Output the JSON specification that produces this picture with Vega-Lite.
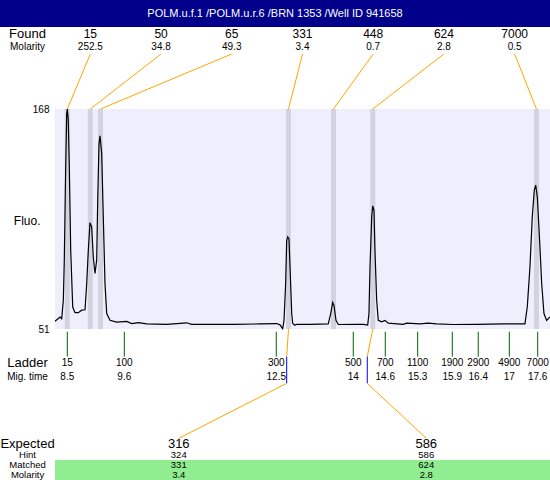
{
  "$schema": "https://vega.github.io/schema/vega-lite/v6.json",
  "padding": 0,
  "spacing": 0,
  "bounds": "flush",
  "config": {
    "view": {"stroke": null},
    "text": {"font": "Liberation Sans", "color": "black"},
    "axis": {"labelFont": "Liberation Sans", "titleFont": "Liberation Sans"}
  },
  "datasets": {
    "trace": [
      {"t": 8.262, "f": 55.1}, {"t": 8.359, "f": 57.4}, {"t": 8.392, "f": 56.5}, {"t": 8.423, "f": 66.3},
      {"t": 8.442, "f": 87.6}, {"t": 8.469, "f": 137.3}, {"t": 8.488, "f": 165}, {"t": 8.5, "f": 168},
      {"t": 8.519, "f": 162.2}, {"t": 8.539, "f": 137.3}, {"t": 8.566, "f": 92.9}, {"t": 8.605, "f": 62.7},
      {"t": 8.649, "f": 59.7}, {"t": 8.713, "f": 59.7}, {"t": 8.779, "f": 61}, {"t": 8.843, "f": 61.2},
      {"t": 8.876, "f": 75.2}, {"t": 8.907, "f": 92.9}, {"t": 8.939, "f": 107.5}, {"t": 8.972, "f": 105.3},
      {"t": 9.003, "f": 89.3}, {"t": 9.036, "f": 80.5}, {"t": 9.069, "f": 87.6}, {"t": 9.089, "f": 119.5},
      {"t": 9.114, "f": 149.7}, {"t": 9.133, "f": 153.8}, {"t": 9.166, "f": 144.4}, {"t": 9.197, "f": 110.6},
      {"t": 9.23, "f": 75.2}, {"t": 9.263, "f": 59.2}, {"t": 9.327, "f": 55.6}, {"t": 9.456, "f": 54.7},
      {"t": 9.65, "f": 55.0}, {"t": 9.747, "f": 53.9}, {"t": 9.875, "f": 54.4}, {"t": 10.037, "f": 53.7},
      {"t": 10.424, "f": 53.5}, {"t": 10.812, "f": 54.3}, {"t": 10.908, "f": 53.5}, {"t": 11.714, "f": 53.5},
      {"t": 12.231, "f": 53.7}, {"t": 12.554, "f": 53.9}, {"t": 12.618, "f": 53.2}, {"t": 12.67, "f": 51.2},
      {"t": 12.696, "f": 55.6}, {"t": 12.728, "f": 75.2}, {"t": 12.748, "f": 98.2}, {"t": 12.767, "f": 100},
      {"t": 12.792, "f": 99}, {"t": 12.817, "f": 80.5}, {"t": 12.845, "f": 59.2}, {"t": 12.864, "f": 53.9},
      {"t": 12.908, "f": 53}, {"t": 12.941, "f": 53.5}, {"t": 13.199, "f": 53.5}, {"t": 13.553, "f": 53.7},
      {"t": 13.6, "f": 59.2}, {"t": 13.638, "f": 65.1}, {"t": 13.664, "f": 63.5}, {"t": 13.702, "f": 55.6},
      {"t": 13.747, "f": 53.4}, {"t": 14.103, "f": 53.5}, {"t": 14.231, "f": 53.5}, {"t": 14.316, "f": 53.1},
      {"t": 14.341, "f": 59.2}, {"t": 14.361, "f": 84}, {"t": 14.394, "f": 110.6}, {"t": 14.413, "f": 116.5},
      {"t": 14.438, "f": 114.2}, {"t": 14.457, "f": 92.9}, {"t": 14.49, "f": 66.3}, {"t": 14.521, "f": 55.6},
      {"t": 14.587, "f": 54.8}, {"t": 14.651, "f": 55.6}, {"t": 14.715, "f": 54.1}, {"t": 15.005, "f": 53.5},
      {"t": 15.071, "f": 54.1}, {"t": 15.329, "f": 53.7}, {"t": 15.489, "f": 54.1}, {"t": 15.652, "f": 53.7},
      {"t": 15.973, "f": 53.4}, {"t": 16.426, "f": 53.5}, {"t": 16.941, "f": 53.7}, {"t": 17.361, "f": 53.7},
      {"t": 17.406, "f": 62.7}, {"t": 17.458, "f": 84}, {"t": 17.503, "f": 110.6}, {"t": 17.542, "f": 124.9},
      {"t": 17.569, "f": 127.5}, {"t": 17.6, "f": 121.3}, {"t": 17.638, "f": 101.8}, {"t": 17.685, "f": 75.2},
      {"t": 17.729, "f": 59.2}, {"t": 17.781, "f": 55.6}, {"t": 17.846, "f": 57.4}
    ],
    "peaks": [
      {"rank": 0, "size": 15, "mol": 252.5, "t": 8.5},
      {"rank": 1, "size": 50, "mol": 34.8, "t": 8.945},
      {"rank": 2, "size": 65, "mol": 49.3, "t": 9.143},
      {"rank": 3, "size": 331, "mol": 3.4, "t": 12.783},
      {"rank": 4, "size": 448, "mol": 0.7, "t": 13.654},
      {"rank": 5, "size": 624, "mol": 2.8, "t": 14.415},
      {"rank": 6, "size": 7000, "mol": 0.5, "t": 17.584}
    ],
    "ladder": [
      {"size": 15, "mig": 8.5, "t": 8.5},
      {"size": 100, "mig": 9.6, "t": 9.604},
      {"size": 300, "mig": 12.5, "t": 12.546},
      {"size": 500, "mig": 14, "t": 14.037},
      {"size": 700, "mig": 14.6, "t": 14.657},
      {"size": 1100, "mig": 15.3, "t": 15.284},
      {"size": 1900, "mig": 15.9, "t": 15.954},
      {"size": 2900, "mig": 16.4, "t": 16.457},
      {"size": 4900, "mig": 17, "t": 17.058},
      {"size": 7000, "mig": 17.6, "t": 17.608}
    ],
    "expected": [
      {"rank": 0, "expected": 316, "hint": 324, "matched": 331, "mol": 3.4, "peak_t": 12.783, "hint_t": 12.748},
      {"rank": 1, "expected": 586, "hint": 586, "matched": 624, "mol": 2.8, "peak_t": 14.415, "hint_t": 14.308}
    ]
  },
  "vconcat": [
    {
      "width": 550,
      "height": 27,
      "view": {"fill": "#00008B", "stroke": null},
      "data": {"values": [{"title": "POLM.u.f.1 /POLM.u.r.6 /BRN 1353 /Well ID 941658"}]},
      "mark": {"type": "text", "color": "white", "fontSize": 11, "baseline": "middle", "font": "Liberation Sans"},
      "encoding": {"text": {"field": "title"}}
    },
    {
      "width": 550,
      "height": 82,
      "layer": [
        {
          "data": {"name": "peaks"},
          "transform": [{"calculate": "8.262 + (datum.rank + 0.5) * 9.584 / 7", "as": "lt"}],
          "mark": {"type": "rule", "color": "#FFA500", "strokeWidth": 1},
          "encoding": {
            "x": {"field": "lt", "type": "quantitative", "scale": {"domain": [7.197, 17.846], "nice": false, "zero": false}, "axis": null},
            "x2": {"field": "t"},
            "y": {"datum": 32.9, "type": "quantitative", "scale": {"domain": [0, 100], "reverse": true, "nice": false, "zero": false}, "axis": null},
            "y2": {"datum": 100}
          }
        },
        {
          "data": {"name": "peaks"},
          "transform": [{"calculate": "8.262 + (datum.rank + 0.5) * 9.584 / 7", "as": "lt"}],
          "mark": {"type": "text", "fontSize": 12, "baseline": "middle"},
          "encoding": {
            "x": {"field": "lt", "type": "quantitative"},
            "y": {"datum": 8.9, "type": "quantitative"},
            "text": {"field": "size"}
          }
        },
        {
          "data": {"name": "peaks"},
          "transform": [{"calculate": "8.262 + (datum.rank + 0.5) * 9.584 / 7", "as": "lt"}],
          "mark": {"type": "text", "fontSize": 10, "baseline": "middle"},
          "encoding": {
            "x": {"field": "lt", "type": "quantitative"},
            "y": {"datum": 24, "type": "quantitative"},
            "text": {"field": "mol"}
          }
        },
        {
          "data": {"values": [{"label": "Found"}]},
          "mark": {"type": "text", "fontSize": 13, "baseline": "middle"},
          "encoding": {
            "x": {"datum": 7.73, "type": "quantitative"},
            "y": {"datum": 8.9, "type": "quantitative"},
            "text": {"field": "label"}
          }
        },
        {
          "data": {"values": [{"label": "Molarity"}]},
          "mark": {"type": "text", "fontSize": 10, "baseline": "middle"},
          "encoding": {
            "x": {"datum": 7.73, "type": "quantitative"},
            "y": {"datum": 24, "type": "quantitative"},
            "text": {"field": "label"}
          }
        }
      ]
    },
    {
      "width": 550,
      "height": 220,
      "layer": [
        {
          "data": {"name": "trace"},
          "mark": {"type": "rect", "color": "#EEEEFC"},
          "encoding": {
            "x": {"aggregate": "min", "field": "t", "type": "quantitative", "scale": {"domain": [7.197, 17.846], "nice": false, "zero": false}, "axis": null},
            "x2": {"aggregate": "max", "field": "t"},
            "y": {"datum": 51, "type": "quantitative"},
            "y2": {"datum": 168}
          }
        },
        {
          "data": {"name": "peaks"},
          "mark": {"type": "rule", "color": "#D3D3DF", "strokeWidth": 5},
          "encoding": {
            "x": {"field": "t", "type": "quantitative"}
          }
        },
        {
          "data": {"name": "trace"},
          "mark": {"type": "line", "color": "black", "strokeWidth": 1.2},
          "encoding": {
            "x": {"field": "t", "type": "quantitative"},
            "y": {
              "field": "f", "type": "quantitative",
              "scale": {"domain": [51, 168], "nice": false, "zero": false},
              "axis": {
                "values": [51, 168], "domain": false, "ticks": false, "tickSize": 0, "grid": false,
                "labelFontSize": 10, "labelColor": "black", "labelPadding": 6, "labelFlush": false, "labelOverlap": false,
                "offset": -55,
                "title": "Fluo.", "titleAngle": 0, "titleFontSize": 12, "titleFontWeight": "normal", "titleColor": "black",
                "titleX": -28.3, "titleY": 111.7, "titleAlign": "center", "titleBaseline": "middle"
              }
            }
          }
        }
      ]
    },
    {
      "width": 550,
      "height": 151,
      "layer": [
        {
          "data": {"name": "trace"},
          "mark": {"type": "rect", "color": "#90EE90"},
          "encoding": {
            "x": {"aggregate": "min", "field": "t", "type": "quantitative", "scale": {"domain": [7.197, 17.846], "nice": false, "zero": false}, "axis": null},
            "x2": {"aggregate": "max", "field": "t"},
            "y": {"datum": 86.75, "type": "quantitative", "scale": {"domain": [0, 100], "reverse": true, "nice": false, "zero": false}, "axis": null},
            "y2": {"datum": 100}
          }
        },
        {
          "data": {"name": "ladder"},
          "mark": {"type": "rule", "color": "#006400", "strokeWidth": 1},
          "encoding": {
            "x": {"field": "t", "type": "quantitative"},
            "y": {"datum": 1.8, "type": "quantitative"},
            "y2": {"datum": 18.3}
          }
        },
        {
          "data": {"name": "ladder"},
          "mark": {"type": "text", "fontSize": 10, "baseline": "middle"},
          "encoding": {
            "x": {"field": "t", "type": "quantitative"},
            "y": {"datum": 22.7, "type": "quantitative"},
            "text": {"field": "size"}
          }
        },
        {
          "data": {"name": "ladder"},
          "mark": {"type": "text", "fontSize": 10, "baseline": "middle"},
          "encoding": {
            "x": {"field": "t", "type": "quantitative"},
            "y": {"datum": 32, "type": "quantitative"},
            "text": {"field": "mig"}
          }
        },
        {
          "data": {"values": [{"label": "Ladder"}]},
          "mark": {"type": "text", "fontSize": 13, "baseline": "middle"},
          "encoding": {
            "x": {"datum": 7.73, "type": "quantitative"},
            "y": {"datum": 22.7, "type": "quantitative"},
            "text": {"field": "label"}
          }
        },
        {
          "data": {"values": [{"label": "Mig. time"}]},
          "mark": {"type": "text", "fontSize": 10, "baseline": "middle"},
          "encoding": {
            "x": {"datum": 7.73, "type": "quantitative"},
            "y": {"datum": 32, "type": "quantitative"},
            "text": {"field": "label"}
          }
        },
        {
          "data": {"name": "expected"},
          "mark": {"type": "rule", "color": "#FFA500", "strokeWidth": 1},
          "encoding": {
            "x": {"field": "peak_t", "type": "quantitative"},
            "x2": {"field": "hint_t"},
            "y": {"datum": 0, "type": "quantitative"},
            "y2": {"datum": 18.3}
          }
        },
        {
          "data": {"name": "expected"},
          "mark": {"type": "rule", "color": "#0000FF", "strokeWidth": 1},
          "encoding": {
            "x": {"field": "hint_t", "type": "quantitative"},
            "y": {"datum": 18.3, "type": "quantitative"},
            "y2": {"datum": 36}
          }
        },
        {
          "data": {"name": "expected"},
          "transform": [{"calculate": "8.262 + (datum.rank + 0.5) * 9.584 / 2", "as": "elt"}],
          "mark": {"type": "rule", "color": "#FFA500", "strokeWidth": 1},
          "encoding": {
            "x": {"field": "hint_t", "type": "quantitative"},
            "x2": {"field": "elt"},
            "y": {"datum": 36, "type": "quantitative"},
            "y2": {"datum": 72.4}
          }
        },
        {
          "data": {"name": "expected"},
          "transform": [{"calculate": "8.262 + (datum.rank + 0.5) * 9.584 / 2", "as": "elt"}],
          "mark": {"type": "text", "fontSize": 13, "baseline": "middle"},
          "encoding": {
            "x": {"field": "elt", "type": "quantitative"},
            "y": {"datum": 75.83, "type": "quantitative"},
            "text": {"field": "expected"}
          }
        },
        {
          "data": {"name": "expected"},
          "transform": [{"calculate": "8.262 + (datum.rank + 0.5) * 9.584 / 2", "as": "elt"}],
          "mark": {"type": "text", "fontSize": 9.5, "baseline": "middle"},
          "encoding": {
            "x": {"field": "elt", "type": "quantitative"},
            "y": {"datum": 83.44, "type": "quantitative"},
            "text": {"field": "hint"}
          }
        },
        {
          "data": {"name": "expected"},
          "transform": [{"calculate": "8.262 + (datum.rank + 0.5) * 9.584 / 2", "as": "elt"}],
          "mark": {"type": "text", "fontSize": 9.5, "baseline": "middle"},
          "encoding": {
            "x": {"field": "elt", "type": "quantitative"},
            "y": {"datum": 90.07, "type": "quantitative"},
            "text": {"field": "matched"}
          }
        },
        {
          "data": {"name": "expected"},
          "transform": [{"calculate": "8.262 + (datum.rank + 0.5) * 9.584 / 2", "as": "elt"}],
          "mark": {"type": "text", "fontSize": 9.5, "baseline": "middle"},
          "encoding": {
            "x": {"field": "elt", "type": "quantitative"},
            "y": {"datum": 96.56, "type": "quantitative"},
            "text": {"field": "mol"}
          }
        },
        {
          "data": {"values": [{"label": "Expected"}]},
          "mark": {"type": "text", "fontSize": 13, "baseline": "middle"},
          "encoding": {
            "x": {"datum": 7.73, "type": "quantitative"},
            "y": {"datum": 75.83, "type": "quantitative"},
            "text": {"field": "label"}
          }
        },
        {
          "data": {"values": [{"label": "Hint"}]},
          "mark": {"type": "text", "fontSize": 9.5, "baseline": "middle"},
          "encoding": {
            "x": {"datum": 7.73, "type": "quantitative"},
            "y": {"datum": 83.44, "type": "quantitative"},
            "text": {"field": "label"}
          }
        },
        {
          "data": {"values": [{"label": "Matched"}]},
          "mark": {"type": "text", "fontSize": 9.5, "baseline": "middle"},
          "encoding": {
            "x": {"datum": 7.73, "type": "quantitative"},
            "y": {"datum": 90.07, "type": "quantitative"},
            "text": {"field": "label"}
          }
        },
        {
          "data": {"values": [{"label": "Molarity"}]},
          "mark": {"type": "text", "fontSize": 9.5, "baseline": "middle"},
          "encoding": {
            "x": {"datum": 7.73, "type": "quantitative"},
            "y": {"datum": 96.56, "type": "quantitative"},
            "text": {"field": "label"}
          }
        }
      ]
    }
  ]
}
